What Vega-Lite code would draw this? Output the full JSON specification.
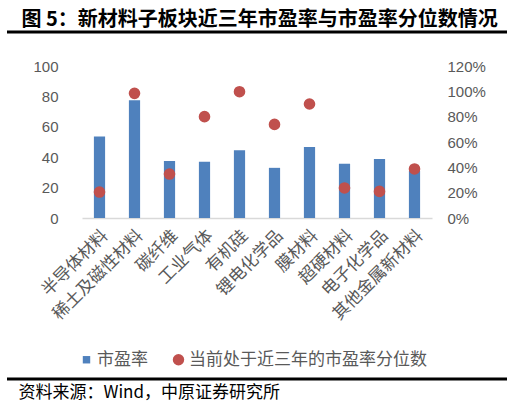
{
  "$schema": "https://vega.github.io/schema/vega-lite/v6.json",
  "padding": {"left": 5, "right": 6, "top": 9, "bottom": 5},
  "config": {
    "view": {"stroke": null},
    "font": "Liberation Sans"
  },
  "datasets": {
    "pe": [
      {"板块": "半导体材料", "市盈率": 53.7, "当前处于近三年的市盈率分位数": 0.205},
      {"板块": "稀土及磁性材料", "市盈率": 77.4, "当前处于近三年的市盈率分位数": 0.984},
      {"板块": "碳纤维", "市盈率": 37.5, "当前处于近三年的市盈率分位数": 0.347},
      {"板块": "工业气体", "市盈率": 37, "当前处于近三年的市盈率分位数": 0.8},
      {"板块": "有机硅", "市盈率": 44.5, "当前处于近三年的市盈率分位数": 0.997},
      {"板块": "锂电化学品", "市盈率": 33, "当前处于近三年的市盈率分位数": 0.739},
      {"板块": "膜材料", "市盈率": 46.7, "当前处于近三年的市盈率分位数": 0.9},
      {"板块": "超硬材料", "市盈率": 35.7, "当前处于近三年的市盈率分位数": 0.237},
      {"板块": "电子化学品", "市盈率": 38.8, "当前处于近三年的市盈率分位数": 0.21},
      {"板块": "其他金属新材料", "市盈率": 31, "当前处于近三年的市盈率分位数": 0.387}
    ]
  },
  "spacing": 34,
  "bounds": "flush",
  "center": true,
  "vconcat": [
    {
      "width": 500,
      "height": 1,
      "title": {
        "text": "图 5：新材料子板块近三年市盈率与市盈率分位数情况",
        "anchor": "start",
        "font": "Noto Sans CJK SC",
        "fontSize": 20,
        "fontWeight": "bold",
        "color": "#000000",
        "offset": 1,
        "dx": 16
      },
      "data": {"name": "pe"},
      "transform": [{"aggregate": [{"op": "count", "as": "n"}]}],
      "mark": {"type": "rule", "color": "#000000", "strokeWidth": 3},
      "encoding": {
        "y": {"datum": 0, "type": "quantitative", "scale": {"domain": [0, 1]}, "axis": null}
      }
    },
    {
      "width": 350,
      "height": 152,
      "data": {"name": "pe"},
      "transform": [
        {"fold": ["市盈率", "当前处于近三年的市盈率分位数"], "as": ["指标", "数值"]}
      ],
      "encoding": {
        "x": {
          "field": "板块",
          "type": "nominal",
          "sort": null,
          "scale": {"paddingInner": 0, "paddingOuter": 0},
          "axis": {
            "title": null,
            "labelAngle": -45,
            "labelFont": "Noto Sans CJK SC",
            "labelFontSize": 17,
            "labelColor": "#595959",
            "labelPadding": 9,
            "ticks": false,
            "domainColor": "#D9D9D9",
            "domainWidth": 1.5
          }
        },
        "color": {
          "field": "指标",
          "type": "nominal",
          "scale": {"domain": ["市盈率", "当前处于近三年的市盈率分位数"], "range": ["#4F81BD", "#C0504D"]},
          "legend": {
            "title": null,
            "orient": "none",
            "direction": "horizontal",
            "legendX": 71,
            "legendY": 320,
            "labelFont": "Noto Sans CJK SC",
            "labelFontSize": 17,
            "labelColor": "#595959",
            "labelLimit": 400,
            "labelOffset": 2,
            "columnPadding": 22,
            "encode": {
              "symbols": {"update": {"size": {"signal": "datum.value === '市盈率' ? 55 : 130"}}}
            }
          }
        }
      },
      "layer": [
        {
          "transform": [{"filter": "datum['指标'] === '市盈率'"}],
          "mark": {"type": "bar", "width": {"band": 0.32}},
          "encoding": {
            "y": {
              "field": "数值",
              "type": "quantitative",
              "scale": {"domain": [0, 100]},
              "axis": {
                "title": null,
                "values": [0, 20, 40, 60, 80, 100],
                "labelFontSize": 15,
                "labelColor": "#595959",
                "labelPadding": 24,
                "domain": false,
                "ticks": false,
                "grid": false
              }
            }
          }
        },
        {
          "transform": [{"filter": "datum['指标'] !== '市盈率'"}],
          "mark": {"type": "point", "filled": true, "opacity": 1, "size": 135},
          "encoding": {
            "y": {
              "field": "数值",
              "type": "quantitative",
              "scale": {"domain": [0, 1.2]},
              "axis": {
                "title": null,
                "orient": "right",
                "values": [0, 0.2, 0.4, 0.6, 0.8, 1, 1.2],
                "format": ".0%",
                "labelFontSize": 15,
                "labelColor": "#595959",
                "labelPadding": 15,
                "domain": false,
                "ticks": false,
                "grid": false
              }
            },
            "shape": {
              "field": "指标",
              "type": "nominal",
              "scale": {"domain": ["市盈率", "当前处于近三年的市盈率分位数"], "range": ["square", "circle"]}
            }
          }
        }
      ],
      "resolve": {"scale": {"y": "independent"}}
    },
    {
      "width": 500,
      "height": 127,
      "title": {
        "text": "资料来源：Wind，中原证券研究所",
        "orient": "bottom",
        "anchor": "start",
        "font": "Noto Sans CJK SC",
        "fontSize": 17,
        "fontWeight": "normal",
        "color": "#000000",
        "offset": 4,
        "dx": 13
      },
      "data": {"name": "pe"},
      "transform": [{"aggregate": [{"op": "count", "as": "n"}]}],
      "mark": {"type": "rule", "color": "#000000", "strokeWidth": 3},
      "encoding": {
        "y": {"datum": 0, "type": "quantitative", "scale": {"domain": [0, 1]}, "axis": null}
      }
    }
  ]
}
